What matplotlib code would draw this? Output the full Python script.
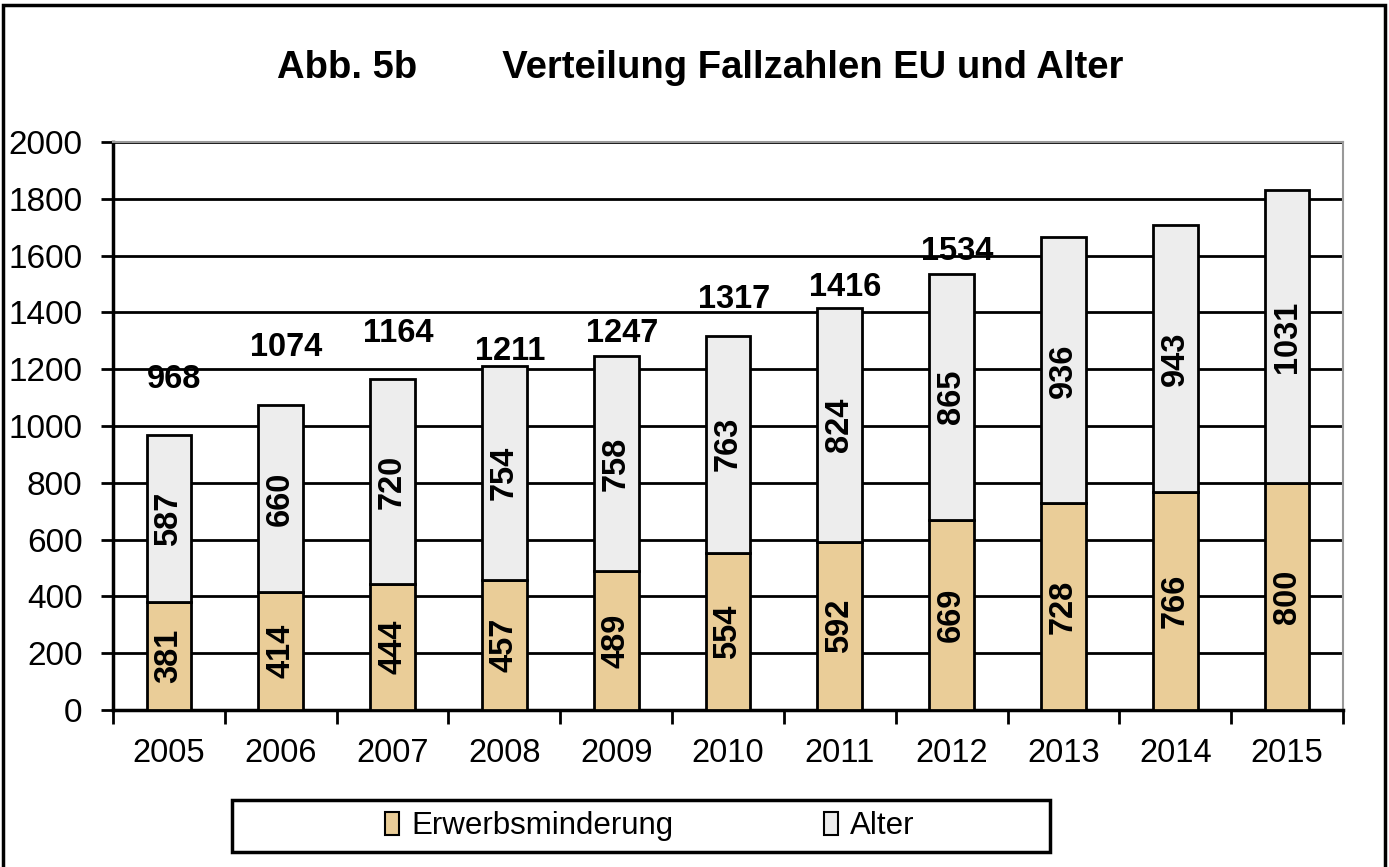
import matplotlib
matplotlib.use("Agg")
import matplotlib.pyplot as plt
from matplotlib.patches import Rectangle, Patch
import numpy as np

years = ["2005", "2006", "2007", "2008", "2009", "2010", "2011", "2012", "2013", "2014", "2015"]
erwerb = [381, 414, 444, 457, 489, 554, 592, 669, 728, 766, 800]
alter = [587, 660, 720, 754, 758, 763, 824, 865, 936, 943, 1031]
totals_shown = [968, 1074, 1164, 1211, 1247, 1317, 1416, 1534]
total_label_offsets = [194, 201, 163, 50, 80, 127, 73, 79]

plt.rcParams['font.family'] = ['Liberation Sans', 'DejaVu Sans']

fig = plt.figure(figsize=(13.89, 8.67), dpi=100)
ax = fig.add_axes([113/1389, 1-710/867, (1343-113)/1389, (710-142)/867])

x = np.arange(len(years))
w = 0.40
tan = "#EACD98"
grey = "#EDEDED"
ax.bar(x, erwerb, w, color=tan, edgecolor="black", linewidth=2, zorder=3)
ax.bar(x, alter, w, bottom=erwerb, color=grey, edgecolor="black", linewidth=2, zorder=3)

for i in range(len(years)):
    ax.text(x[i], erwerb[i]/2, str(erwerb[i]), rotation=90, ha="center", va="center",
            fontsize=23.5, fontweight="bold", zorder=4)
    ax.text(x[i], erwerb[i] + alter[i]/2, str(alter[i]), rotation=90, ha="center", va="center",
            fontsize=23.5, fontweight="bold", zorder=4)
for i, t in enumerate(totals_shown):
    ax.text(x[i] + 0.05, t + total_label_offsets[i], str(t), ha="center", va="center",
            fontsize=23.5, fontweight="bold", zorder=4)

ax.set_xlim(-0.5, len(years) - 0.5)
ax.set_ylim(0, 2000)
ax.set_yticks(range(0, 2001, 200))
ax.yaxis.grid(True, color="black", linewidth=2, zorder=0)
ax.set_axisbelow(True)
ax.set_xticks(x)
ax.set_xticklabels(years)
ax.set_xticks(np.arange(-0.5, len(years), 1.0), minor=True)
ax.tick_params(axis="x", which="major", length=0, labelsize=23.5, pad=20)
ax.tick_params(axis="x", which="minor", length=10, width=2, direction="out")
ax.tick_params(axis="y", length=9, width=2, direction="out", labelsize=24, pad=13)
for s in ["left", "bottom"]:
    ax.spines[s].set_linewidth(2.5)
    ax.spines[s].set_color("black")
ax.spines["right"].set_color("#999999")
ax.spines["right"].set_linewidth(1.5)
ax.spines["top"].set_color("#999999")
ax.spines["top"].set_linewidth(1.5)

fig.text(0.504, 1-68/867, "Abb. 5b        Verteilung Fallzahlen EU und Alter",
         ha="center", va="center", fontsize=27.5, fontweight="bold")

# figure border
fig.patches.append(Rectangle((3/1389, -0.01), (1385-3)/1389, 1-5/867+0.01, transform=fig.transFigure,
                             fill=False, edgecolor="black", linewidth=2.5))

# legend frame
fig.patches.append(Rectangle((232/1389, 1-852/867), (1050-232)/1389, 52/867, transform=fig.transFigure,
                             fill=False, edgecolor="black", linewidth=2.5))
handles = [Patch(facecolor=tan, edgecolor="black", linewidth=1.5, label="Erwerbsminderung"),
           Patch(facecolor=grey, edgecolor="black", linewidth=1.5, label="Alter")]
leg = fig.legend(handles=handles, loc="center", bbox_to_anchor=(650/1389, 1-826/867),
                 ncol=2, fontsize=22.5, frameon=False,
                 handlelength=0.45, handleheight=0.75, handletextpad=0.4, columnspacing=4.8,
                 borderpad=0.2)

fig.savefig("out.png", dpi=100)
